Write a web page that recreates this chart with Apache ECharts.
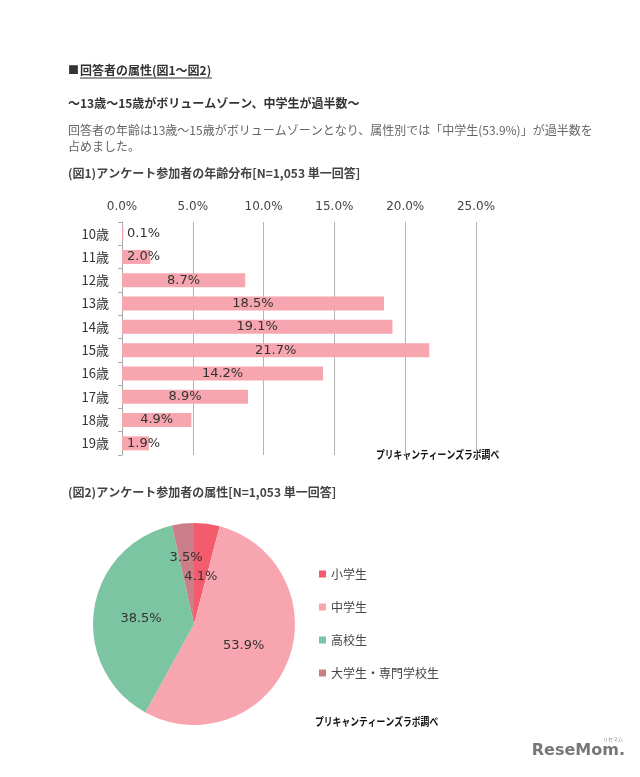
<!DOCTYPE html>
<html>
<head>
<meta charset="utf-8">
<script src="https://cdn.jsdelivr.net/npm/echarts@6/dist/echarts.min.js"></script>
<style>
html,body{margin:0;padding:0;background:#fff;}
#c{width:640px;height:777px;}
</style>
</head>
<body>
<div id="c"></div>
<script>
const ageCategories = ['10歳','11歳','12歳','13歳','14歳','15歳','16歳','17歳','18歳','19歳'];
const ageValues = [0.1, 2.0, 8.7, 18.5, 19.1, 21.7, 14.2, 8.9, 4.9, 1.9];
const axisTicks = [0, 5, 10, 15, 20, 25];
const groupNames = ['小学生','中学生','高校生','大学生・専門学校生'];
const groupValues = [4.1, 53.9, 38.5, 3.5];
const groupColors = ['#f45b6c','#f7a5ae','#7cc5a2','#c97e88'];

const FONT = "'DejaVu Sans','Noto Sans CJK JP',sans-serif";
const JP = "'Noto Sans CJK JP',sans-serif";

const chart = echarts.init(document.getElementById('c'), null, {renderer:'canvas'});

function txt(x, y, text, opts) {
  return {
    type: 'text', x: x, y: y, silent: true,
    style: Object.assign({ text: text, fill: '#333', font: '12px ' + JP, textVerticalAlign: 'middle', verticalAlign: 'middle' }, opts || {})
  };
}

const graphics = [
  txt(68, 70, '■', { font: 'bold 11px ' + JP, fill: '#333' }),
  txt(80, 70, '回答者の属性(図1〜図2)', { font: 'bold 12px ' + JP, fill: '#333' }),
  { type: 'line', silent: true, shape: { x1: 80, y1: 78, x2: 212, y2: 78 }, style: { stroke: '#333', lineWidth: 1 } },
  txt(68, 103, '〜13歳〜15歳がボリュームゾーン、中学生が過半数〜', { font: 'bold 12px ' + JP, fill: '#333' }),
  txt(68, 130, '回答者の年齢は13歳〜15歳がボリュームゾーンとなり、属性別では「中学生(53.9%)」が過半数を', { font: '12px ' + JP, fill: '#666' }),
  txt(68, 146, '占めました。', { font: '12px ' + JP, fill: '#666' }),
  txt(68, 173, '(図1)アンケート参加者の年齢分布[N=1,053 単一回答]', { font: 'bold 12px ' + JP, fill: '#444' }),
  Object.assign(txt(376, 455, 'プリキャンティーンズラボ調べ', { font: 'bold 11px ' + JP, fill: '#111' }), { scaleX: 0.8 }),
  txt(68, 492, '(図2)アンケート参加者の属性[N=1,053 単一回答]', { font: 'bold 12px ' + JP, fill: '#444' }),
  Object.assign(txt(315, 722, 'プリキャンティーンズラボ調べ', { font: 'bold 11px ' + JP, fill: '#111' }), { scaleX: 0.8 }),
  txt(625, 751, 'ReseMom.', { font: 'bold 16px ' + FONT, fill: '#777', align: 'right', textAlign: 'right' }),
  txt(603, 739, 'リセマム', { font: '5px ' + JP, fill: '#888' })
];

const option = {
  animation: false,
  backgroundColor: '#fff',
  textStyle: { fontFamily: FONT },
  graphic: graphics,
  grid: { left: 122, right: 164, top: 222, bottom: 322, containLabel: false },
  xAxis: {
    type: 'value', position: 'top',
    min: axisTicks[0], max: axisTicks[axisTicks.length - 1], interval: axisTicks[1] - axisTicks[0],
    axisLine: { show: false }, axisTick: { show: false },
    splitLine: { show: true, lineStyle: { color: '#b4b4b4', width: 1 } },
    axisLabel: { margin: 9, color: '#444', fontSize: 12, fontFamily: FONT, formatter: v => v.toFixed(1) + '%' }
  },
  yAxis: {
    type: 'category', inverse: true, data: ageCategories,
    axisLine: { show: true, lineStyle: { color: '#aaa' } },
    axisTick: { show: true, length: 4, lineStyle: { color: '#aaa' } },
    axisLabel: { margin: 13, color: '#333', fontSize: 13, fontFamily: JP }
  },
  legend: {
    orient: 'vertical', left: 319, top: 567, padding: 0,
    icon: 'rect', itemWidth: 7, itemHeight: 7, itemGap: 19,
    data: groupNames,
    textStyle: { fontSize: 12, color: '#444', fontFamily: JP, lineHeight: 14 }
  },
  series: [
    {
      type: 'bar', barWidth: 14,
      itemStyle: { color: '#f7a5ae' },
      label: { show: true, position: 'inside', color: '#333', fontSize: 13, fontFamily: FONT, formatter: p => p.value.toFixed(1) + '%' },
      data: ageValues.map(v => v < 3 ? { value: v, label: { position: 'insideLeft', distance: 5 } } : v),
      emphasis: { disabled: true }
    },
    {
      type: 'pie', center: [194, 624], radius: 101, startAngle: 90, clockwise: true,
      label: { show: true, position: 'inside', color: '#333', fontSize: 13, fontFamily: FONT, formatter: p => p.value.toFixed(1) + '%' },
      labelLine: { show: false },
      labelLayout: p => (p.dataIndex === 3 ? { dx: -2, dy: -13 } : (p.dataIndex === 0 ? { dy: 6 } : { dy: 2 })),
      emphasis: { disabled: true },
      itemStyle: { borderWidth: 0 },
      data: groupNames.map((n, i) => ({ name: n, value: groupValues[i], itemStyle: { color: groupColors[i] } }))
    }
  ]
};
chart.setOption(option);
</script>
</body>
</html>
